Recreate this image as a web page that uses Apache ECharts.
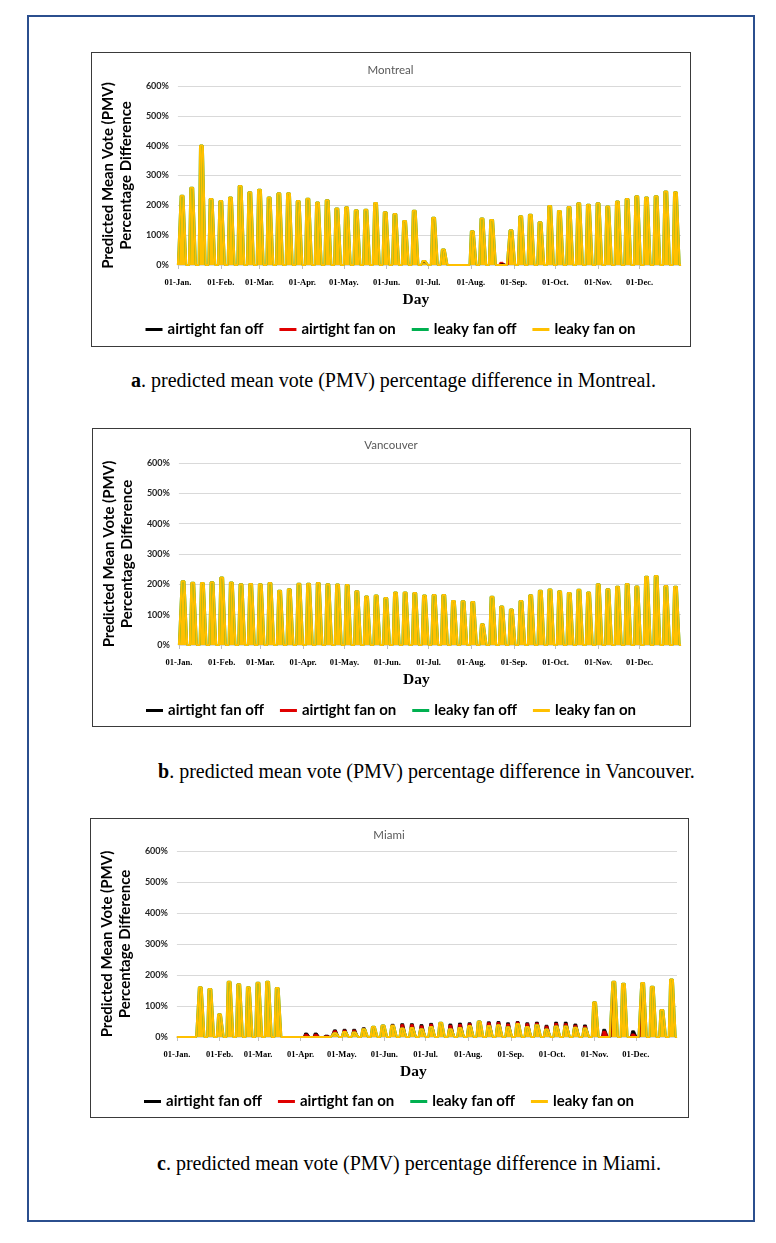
<!DOCTYPE html>
<html><head><meta charset="utf-8">
<script src="https://cdn.jsdelivr.net/npm/echarts@6/dist/echarts.min.js"></script>
<style>
body{margin:0;width:776px;height:1243px;background:#fff;position:relative;overflow:hidden}
#frame{position:absolute;left:27px;top:15px;width:728px;height:1207px;box-sizing:border-box;border:2px solid #2b4f8e}
.chart{position:absolute}
.box{position:absolute;box-sizing:border-box;border:1px solid #3a3a3a;pointer-events:none}
.cap{position:absolute;font-family:'Liberation Serif','Times New Roman',serif;font-size:20px;color:#000;white-space:nowrap;line-height:24px}
</style></head>
<body>
<div id="frame"></div>
<div class="chart" id="c1" style="left:91px;top:52px;width:599px;height:294px"></div>
<div class="box" style="left:91px;top:52px;width:600px;height:295px"></div>
<div class="cap" style="left:131px;top:368px"><b>a</b>. predicted mean vote (PMV) percentage difference in Montreal.</div>
<div class="chart" id="c2" style="left:92px;top:428px;width:598px;height:298px"></div>
<div class="box" style="left:92px;top:428px;width:599px;height:299px"></div>
<div class="cap" style="left:158px;top:759px"><b>b</b>. predicted mean vote (PMV) percentage difference in Vancouver.</div>
<div class="chart" id="c3" style="left:90px;top:818px;width:598px;height:299px"></div>
<div class="box" style="left:90px;top:818px;width:599px;height:300px"></div>
<div class="cap" style="left:157px;top:1151px"><b>c</b>. predicted mean vote (PMV) percentage difference in Miami.</div>
<script>
// ---- data: weekly peak values (%), 52 weeks ----
const monthNames = ['Jan','Feb','Mar','Apr','May','Jun','Jul','Aug','Sep','Oct','Nov','Dec'];
const monthDays  = [31,28,31,30,31,30,31,31,30,31,30,31];
const seriesNames = ['airtight fan off','airtight fan on','leaky fan off','leaky fan on'];
const yTicks = [0,100,200,300,400,500,600];
// occupancy schedule inside each week (1 = occupied day)
const weekSchedule = [0,0,1,1,1,1,0];

const montrealAirtightOff = [232,259,400,221,214,226,265,244,252,226,240,240,214,222,209,217,189,193,183,185,208,177,171,147,182,8,158,52,0,0,113,156,151,5,116,163,168,143,198,181,194,207,202,207,196,213,221,230,226,230,246,244];
const montrealAirtightOn  = [232,259,400,221,214,226,265,244,252,226,240,240,214,222,209,217,189,193,183,185,208,177,171,147,182,10,158,52,0,0,113,156,151,9,116,163,168,143,198,181,194,207,202,207,196,213,221,230,226,230,246,244];
const montrealLeakyOff    = [232,259,400,221,214,226,265,244,252,226,240,240,214,222,209,217,189,193,183,185,208,177,171,147,182,13,158,52,0,0,113,156,151,0,116,163,168,143,198,181,194,207,202,207,196,213,221,230,226,230,246,244];
const montrealLeakyOn     = [232,259,400,221,214,226,265,244,252,226,240,240,214,222,209,217,189,193,183,185,208,177,171,147,182,13,158,52,0,0,113,156,151,0,116,163,168,143,198,181,194,207,202,207,196,213,221,230,226,230,246,244];

const vancouverAirtightOff = [210,205,204,207,222,206,200,201,200,204,179,184,202,202,204,200,199,198,177,160,163,155,173,173,171,163,165,165,145,144,142,68,159,127,117,145,164,179,183,177,171,182,173,200,184,192,201,193,225,227,194,192];
const vancouverAirtightOn  = [210,205,204,207,222,206,200,201,200,204,179,184,202,202,204,200,199,198,177,160,163,155,173,173,171,163,165,165,145,144,142,68,159,127,117,145,164,179,183,177,171,182,173,200,184,192,201,193,225,227,194,192];
const vancouverLeakyOff    = [210,205,204,207,222,206,200,201,200,204,179,184,202,202,204,200,199,198,177,160,163,155,173,173,171,163,165,165,145,144,142,68,159,127,117,145,164,179,183,177,171,182,173,200,184,192,201,193,225,227,194,192];
const vancouverLeakyOn     = [210,205,204,207,222,206,200,201,200,204,179,184,202,202,204,200,199,198,177,160,163,155,173,173,171,163,165,165,145,144,142,68,159,127,117,145,164,179,183,177,171,182,173,200,184,192,201,193,225,227,194,192];

const miamiAirtightOff = [0,0,160,155,73,178,170,160,175,178,158,0,0,13,13,6,23,25,25,30,33,38,41,43,43,40,44,46,42,45,46,51,49,50,46,50,46,48,38,48,48,42,39,112,25,178,172,20,174,162,87,185];
const miamiAirtightOn  = [0,0,160,155,73,178,170,160,175,178,158,0,0,9,9,4,20,22,22,28,33,37,39,40,40,36,41,45,38,41,43,50,46,47,42,48,43,45,35,44,43,38,35,112,19,178,172,10,174,162,87,185];
const miamiLeakyOff    = [0,0,160,155,73,178,170,160,175,178,158,0,0,0,0,0,12,16,14,25,33,37,36,27,29,25,32,46,25,29,35,50,35,38,31,42,32,38,24,34,34,30,27,112,0,178,172,0,174,162,87,185];
const miamiLeakyOn     = [0,0,160,155,73,178,170,160,175,178,158,0,0,0,0,0,12,16,14,25,33,37,36,27,29,25,32,46,25,29,35,50,35,38,31,42,32,38,24,34,34,30,27,112,0,178,172,0,174,162,87,185];

// ---- build day categories ----
const days = [];
monthNames.forEach((m, i) => { for (let d = 1; d <= monthDays[i]; d++) days.push((d < 10 ? '0' + d : '' + d) + '-' + m + '.'); });
function daily(weekly) {
  return days.map((_, i) => { const w = Math.floor(i / 7); return w < weekly.length ? weekly[w] * weekSchedule[i % 7] : 0; });
}

const colors = ['#000000', '#e00000', '#00b050', '#ffc000'];
const widths = [0.8, 0.8, 2.1, 2.1];
const isMonthStart = (idx, val) => (typeof val === 'string' ? val : days[idx]).indexOf('01-') === 0;

function makeChart(id, title, arrays, g) {
  const chart = echarts.init(document.getElementById(id), null, {renderer: 'canvas'});
  chart.setOption({
    animation: false,
    backgroundColor: '#fff',
    title: {text: title, left: 'center', top: g.titleTop, textStyle: {fontFamily: 'Lato', fontSize: 11.5, fontWeight: 'normal', color: '#595959'}},
    legend: {
      data: seriesNames, bottom: g.legendBottom, left: 'center', icon: 'rect', itemWidth: 17, itemHeight: 3, itemGap: 16,
      textStyle: {fontFamily: 'Lato', fontWeight: 'bold', fontSize: 15, color: '#000'}
    },
    grid: {left: g.left, right: g.right, top: g.top, bottom: g.bottom, containLabel: false},
    xAxis: {
      type: 'category', data: days, boundaryGap: false,
      name: 'Day', nameLocation: 'middle', nameGap: 24,
      nameTextStyle: {fontFamily: 'Liberation Serif', fontWeight: 'bold', fontSize: 15.5, color: '#000', padding: [0, 27, 0, 0]},
      axisLine: {show: true, lineStyle: {color: '#d9d9d9'}},
      axisTick: {show: true, interval: isMonthStart, length: 4, lineStyle: {color: '#bfbfbf'}},
      axisLabel: {interval: isMonthStart, margin: 13, fontFamily: 'Liberation Serif', fontWeight: 'bold', fontSize: 8.5, color: '#000', hideOverlap: false},
      splitLine: {show: false}
    },
    yAxis: {
      type: 'value', min: yTicks[0], max: yTicks[yTicks.length - 1], interval: 100,
      name: 'Predicted Mean Vote (PMV)\nPercentage Difference', nameLocation: 'middle', nameRotate: 90, nameGap: g.nameGap,
      nameTextStyle: {fontFamily: 'Lato', fontWeight: 'bold', fontSize: 15, lineHeight: 18, color: '#000'},
      axisLine: {show: false}, axisTick: {show: false},
      axisLabel: {formatter: '{value}%', fontFamily: 'Lato', fontWeight: 'bold', fontSize: 9, color: '#262626', margin: 9},
      splitLine: {lineStyle: {color: '#d9d9d9', width: 1}}
    },
    series: arrays.map((arr, k) => ({
      name: seriesNames[k], type: 'line', data: daily(arr), symbol: 'none', showSymbol: false,
      lineStyle: {color: colors[k], width: widths[k]}, itemStyle: {color: colors[k]},
      areaStyle: {color: colors[k], opacity: 1}, emphasis: {disabled: true}, silent: true
    }))
  });
}

makeChart('c1', 'Montreal', [montrealAirtightOff, montrealAirtightOn, montrealLeakyOff, montrealLeakyOn],
  {left: 82, right: 9, top: 34, bottom: 81, titleTop: 7, legendBottom: 4, nameGap: 33});
makeChart('c2', 'Vancouver', [vancouverAirtightOff, vancouverAirtightOn, vancouverLeakyOff, vancouverLeakyOn],
  {left: 84, right: 9, top: 35, bottom: 81, titleTop: 6, legendBottom: 3, nameGap: 35});
makeChart('c3', 'Miami', [miamiAirtightOff, miamiAirtightOn, miamiLeakyOff, miamiLeakyOn],
  {left: 83, right: 11, top: 33, bottom: 80, titleTop: 6, legendBottom: 3, nameGap: 34});
</script>
</body></html>
